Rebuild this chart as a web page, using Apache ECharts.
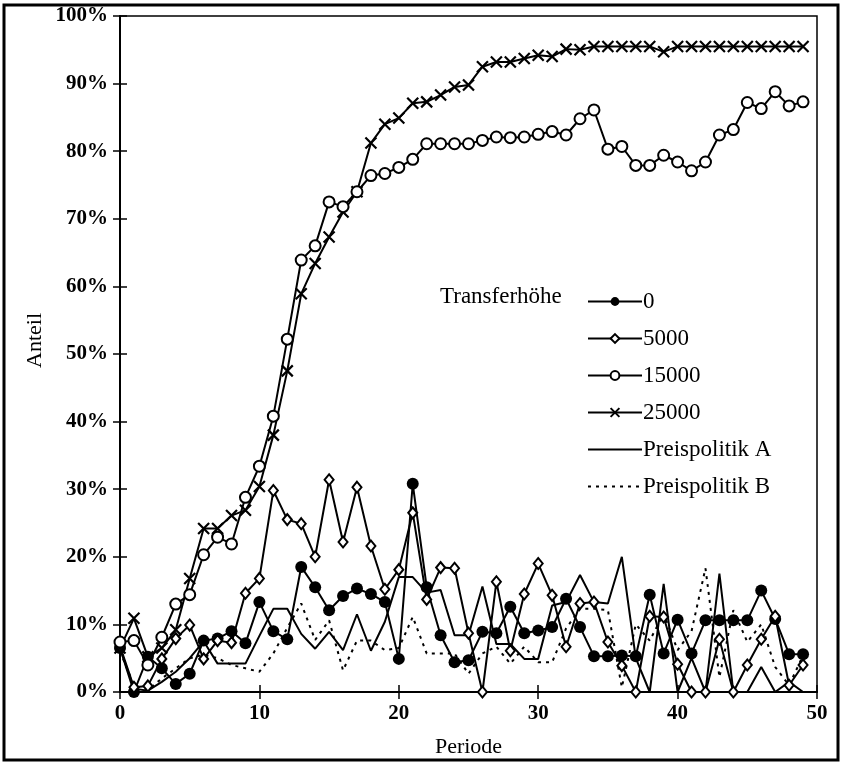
<!DOCTYPE html>
<html>
<head>
<meta charset="utf-8">
<script src="https://cdn.jsdelivr.net/npm/echarts@6/dist/echarts.min.js"></script>
<style>html,body{margin:0;padding:0;background:#fff}#c{width:850px;height:770px}</style>
</head>
<body>
<div id="c"></div>
<script>
// Periods 0..49
const periods = Array.from({length: 50}, (_, i) => i);
const xTicks = [0, 10, 20, 30, 40, 50];
const yTicks = ['0%','10%','20%','30%','40%','50%','60%','70%','80%','90%','100%'];
const seriesNames = ['0', '5000', '15000', '25000', 'Preispolitik A', 'Preispolitik B'];

const t0 = [6.5,0,5.2,3.5,1.2,2.7,7.6,7.9,9.0,7.2,13.3,9.0,7.8,18.5,15.5,12.1,14.2,15.3,14.5,13.3,4.9,30.8,15.5,8.4,4.4,4.7,8.9,8.7,12.6,8.7,9.1,9.6,13.8,9.6,5.3,5.3,5.4,5.3,14.4,5.7,10.7,5.7,10.6,10.6,10.6,10.6,15.0,10.8,5.6,5.6];
const t5000 = [6.8,0.7,0.9,4.9,7.9,9.9,4.9,7.6,7.3,14.6,16.8,29.8,25.5,24.9,20.0,31.4,22.2,30.3,21.6,15.2,18.1,26.5,13.7,18.4,18.3,8.7,0,16.3,6.1,14.5,19.0,14.3,6.7,13.1,13.3,7.4,3.9,0,11.2,11.1,4.1,0,0,7.8,0,4.0,7.8,11.2,1.0,4.0];
const t15000 = [7.4,7.6,4.0,8.1,13.0,14.4,20.3,22.9,21.9,28.8,33.4,40.8,52.2,63.9,66.0,72.5,71.8,74.0,76.4,76.7,77.6,78.8,81.1,81.1,81.1,81.1,81.6,82.1,82.0,82.1,82.5,82.9,82.4,84.8,86.1,80.3,80.7,77.9,77.9,79.4,78.4,77.1,78.4,82.4,83.2,87.2,86.3,88.8,86.7,87.3];
const t25000 = [6.5,10.9,5.2,6.5,9.2,16.8,24.2,24.2,26.1,26.9,30.4,38.0,47.5,58.9,63.4,67.3,71.0,74.0,81.2,84.0,84.9,87.1,87.3,88.3,89.5,89.8,92.5,93.2,93.2,93.7,94.2,94.0,95.1,95.0,95.5,95.5,95.5,95.5,95.5,94.7,95.5,95.5,95.5,95.5,95.5,95.5,95.5,95.5,95.5,95.5];
const preisA = [6.5,0.5,0.2,1.5,3.0,5.0,7.5,4.2,4.2,4.2,8.3,12.3,12.3,8.6,6.4,8.9,6.2,11.5,6.1,10.4,17.0,17.0,14.7,15.1,8.4,8.4,15.6,7.1,7.1,4.9,4.9,12.8,13.3,17.3,13.3,13.1,20.0,5.0,0,16.0,0,5.0,0,17.5,0,0,3.7,0,1.5,0];
const preisB = [6.0,1.0,0.3,2.0,3.5,5.0,5.5,5.0,4.0,3.5,3.0,5.7,9.5,13.1,7.7,10.6,3.2,7.6,7.6,6.2,6.5,11.1,5.7,5.7,5.7,2.7,5.7,6.7,4.2,6.7,4.4,4.4,9.4,12.3,12.3,12.1,0.7,10.0,7.6,11.6,6.2,9.0,18.3,2.2,12.1,7.4,10.0,3.7,1.0,5.4];

const pair = arr => periods.map((p, i) => [p, arr[i]]);
const FONT = 'Liberation Serif';
const crossPath = 'path://M0,0L10,10M10,0L0,10';

const chart = echarts.init(document.getElementById('c'), null, {renderer: 'canvas'});
const baseLine = {color: '#000', width: 2};

const option = {
  animation: false,
  backgroundColor: '#fff',
  grid: {left: 120, right: 33, top: 16, bottom: 78, show: true, borderColor: '#000', borderWidth: 1.5, backgroundColor: 'transparent'},
  xAxis: [{
    type: 'value', min: 0, max: 50, interval: 10,
    name: 'Periode', nameLocation: 'middle', nameGap: 44,
    nameTextStyle: {fontFamily: FONT, fontSize: 22, color: '#000'},
    axisLine: {show: true, onZero: false, lineStyle: {color: '#000', width: 2}},
    axisTick: {show: true, inside: false, length: 7, lineStyle: {color: '#000', width: 1.5}},
    axisLabel: {fontFamily: FONT, fontSize: 21, fontWeight: 'bold', color: '#000', margin: 11, formatter: v => xTicks.includes(v) ? String(v) : ''},
    splitLine: {show: false}
  }, {
    type: 'value', min: 0, max: 50, interval: 10, position: 'bottom',
    axisLine: {show: false}, axisLabel: {show: false}, splitLine: {show: false},
    axisTick: {show: true, inside: true, length: 7, lineStyle: {color: '#000', width: 1.5}}
  }],
  yAxis: [{
    type: 'value', min: 0, max: 100, interval: 10,
    axisLine: {show: true, onZero: false, lineStyle: {color: '#000', width: 2}},
    axisTick: {show: true, inside: false, length: 7, lineStyle: {color: '#000', width: 1.5}},
    axisLabel: {fontFamily: FONT, fontSize: 21, fontWeight: 'bold', color: '#000', margin: 12, formatter: v => yTicks[Math.round(v / 10)]},
    splitLine: {show: false}
  }, {
    type: 'value', min: 0, max: 100, interval: 10, position: 'left',
    axisLine: {show: false}, axisLabel: {show: false}, splitLine: {show: false},
    axisTick: {show: true, inside: true, length: 7, lineStyle: {color: '#000', width: 1.5}}
  }],
  legend: {
    show: true, orient: 'vertical', left: 582, top: 285, itemGap: 14, padding: 5,
    itemWidth: 54, itemHeight: 11,
    textStyle: {fontFamily: FONT, fontSize: 23, color: '#000', padding: [0,0,0,-4]},
    data: [
      {name: '0'}, {name: '5000'}, {name: '15000'}, {name: '25000'},
      {name: 'Preispolitik A', itemStyle: {color: 'rgba(0,0,0,0)', borderWidth: 0, opacity: 0}},
      {name: 'Preispolitik B', itemStyle: {color: 'rgba(0,0,0,0)', borderWidth: 0, opacity: 0}}
    ]
  },
  graphic: [
    {type: 'rect', shape: {x: 4, y: 5, width: 834, height: 755}, style: {fill: 'none', stroke: '#000', lineWidth: 3}, silent: true},
    {type: 'text', left: 440, top: 285, style: {text: 'Transferhöhe', font: '23px "Liberation Serif"', fill: '#000'}},
    {type: 'text', x: 24, y: 368, rotation: Math.PI / 2, style: {text: 'Anteil', font: '22px "Liberation Serif"', fill: '#000'}}
  ],
  series: [
    {name: 'Preispolitik B', type: 'line', data: pair(preisB), showSymbol: false, symbol: 'none', lineStyle: {color: '#000', width: 2, type: [3, 5]}, itemStyle: {color: '#000'}, z: 2},
    {name: 'Preispolitik A', type: 'line', data: pair(preisA), showSymbol: false, symbol: 'none', lineStyle: {color: '#000', width: 2}, itemStyle: {color: '#000'}, z: 2},
    {name: '0', type: 'line', data: pair(t0), symbol: 'circle', symbolSize: 12, lineStyle: baseLine, itemStyle: {color: '#000', borderColor: '#000', borderWidth: 0}, z: 3},
    {name: '5000', type: 'line', data: pair(t5000), symbol: 'diamond', symbolSize: [9, 11], lineStyle: baseLine, itemStyle: {color: '#fff', borderColor: '#000', borderWidth: 2}, z: 4},
    {name: '25000', type: 'line', data: pair(t25000), symbol: crossPath, symbolSize: 11, lineStyle: baseLine, itemStyle: {color: 'none', borderColor: '#000', borderWidth: 2.2}, z: 5},
    {name: '15000', type: 'line', data: pair(t15000), symbol: 'circle', symbolSize: 11, lineStyle: baseLine, itemStyle: {color: '#fff', borderColor: '#000', borderWidth: 2}, z: 6}
  ]
};
chart.setOption(option);
</script>
</body>
</html>
